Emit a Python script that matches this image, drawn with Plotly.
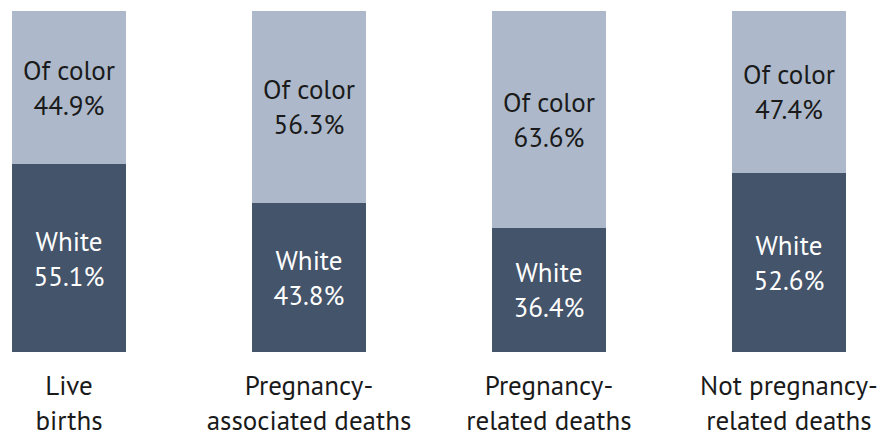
import plotly.graph_objects as go

categories = ["Live births", "Pregnancy-associated deaths", "Pregnancy-related deaths", "Not pregnancy-related deaths"]
tick_labels = ["Live<br>births", "Pregnancy-<br>associated deaths", "Pregnancy-<br>related deaths", "Not pregnancy-<br>related deaths"]
white_pct = [55.1, 43.8, 36.4, 52.6]
of_color_pct = [44.9, 56.3, 63.6, 47.4]

DARK = "#44546A"
LIGHT = "#ADB9CA"
FONT = "PT Sans, Noto Sans, Open Sans, sans-serif"

fig = go.Figure()
fig.add_trace(
    go.Bar(
        x=categories,
        y=white_pct,
        name="White",
        marker={"color": DARK, "line": {"width": 0}},
        text=[f"White<br>{v:.1f}%" for v in white_pct],
        textposition="inside",
        insidetextanchor="middle",
        textfont={"size": 27, "color": "#ffffff", "family": FONT},
        constraintext="none",
        width=0.475,
    )
)
fig.add_trace(
    go.Bar(
        x=categories,
        y=of_color_pct,
        name="Of color",
        marker={"color": LIGHT, "line": {"width": 0}},
        text=[f"Of color<br>{v:.1f}%" for v in of_color_pct],
        textposition="inside",
        insidetextanchor="middle",
        textfont={"size": 27, "color": "#1a1a1a", "family": FONT},
        constraintext="none",
        width=0.475,
    )
)

fig.update_layout(
    barmode="stack",
    width=883,
    height=440,
    margin={"l": 0, "r": 0, "t": 11, "b": 88},
    paper_bgcolor="white",
    plot_bgcolor="white",
    showlegend=False,
    font={"family": FONT, "size": 27, "color": "#1a1a1a"},
)
fig.update_xaxes(
    tickvals=categories,
    ticktext=tick_labels,
    range=[-0.2875, 3.392],
    showgrid=False,
    showline=False,
    zeroline=False,
    automargin=False,
    tickfont={"size": 27, "color": "#1a1a1a"},
    ticklabelstandoff=15,
)
fig.update_yaxes(range=[0, 100], visible=False, automargin=False)

# drop the browser's default 8px body margin so the figure sits at the page corner
fig.write_html(
    "out.html",
    config={"displayModeBar": False},
    post_script="document.body.style.margin='0';",
)
